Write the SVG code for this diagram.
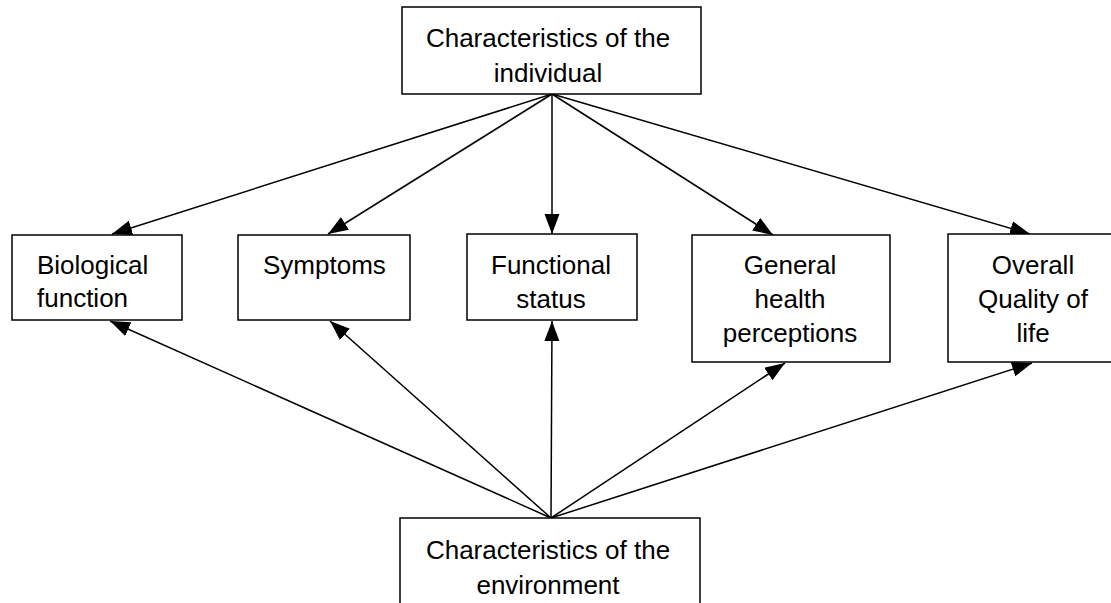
<svg xmlns="http://www.w3.org/2000/svg" width="1111" height="603" viewBox="0 0 1111 603">
<style>
.box{fill:#fff;stroke:#000;stroke-width:1.5}
.t{font-family:"Liberation Sans",Arial,sans-serif;font-size:26px;fill:#000}
.c{text-anchor:middle}
.ln{stroke:#000;stroke-width:1.5;fill:none;marker-end:url(#ah)}
</style>
<defs>
<marker id="ah" markerUnits="userSpaceOnUse" markerWidth="22" markerHeight="16" refX="20" refY="7.5" orient="auto">
<path d="M0,0 L20,7.5 L0,15 Z" fill="#000"/>
</marker>
</defs>
<rect width="1111" height="603" fill="#fff"/>
<g id="connectors">
<line class="ln" x1="552" y1="94" x2="112" y2="234"/>
<line class="ln" x1="552" y1="94" x2="328" y2="234"/>
<line class="ln" x1="552" y1="94" x2="552" y2="234"/>
<line class="ln" x1="552" y1="94" x2="773" y2="235"/>
<line class="ln" x1="552" y1="94" x2="1030" y2="234"/>
<line class="ln" x1="551" y1="518" x2="110" y2="321"/>
<line class="ln" x1="551" y1="518" x2="330" y2="321"/>
<line class="ln" x1="551" y1="518" x2="552" y2="321"/>
<line class="ln" x1="551" y1="518" x2="785" y2="363"/>
<line class="ln" x1="551" y1="518" x2="1032" y2="363"/>
</g>
<g id="individual">
<rect class="box" x="402" y="7" width="299" height="87"/>
<text class="t c" x="548" y="47">Characteristics of the</text>
<text class="t c" x="548" y="82">individual</text>
</g>
<g id="biological">
<rect class="box" x="12" y="235" width="170" height="85"/>
<text class="t" x="37" y="274">Biological</text>
<text class="t" x="37" y="307">function</text>
</g>
<g id="symptoms">
<rect class="box" x="238" y="235" width="172" height="85"/>
<text class="t" x="263" y="274">Symptoms</text>
</g>
<g id="functional">
<rect class="box" x="467" y="234" width="170" height="86"/>
<text class="t c" x="551" y="274">Functional</text>
<text class="t c" x="551" y="308">status</text>
</g>
<g id="general">
<rect class="box" x="692" y="235" width="198" height="127"/>
<text class="t c" x="790" y="274">General</text>
<text class="t c" x="790" y="308">health</text>
<text class="t c" x="790" y="342">perceptions</text>
</g>
<g id="overall">
<rect class="box" x="948" y="234" width="170" height="128"/>
<text class="t c" x="1033" y="274">Overall</text>
<text class="t c" x="1033" y="308">Quality of</text>
<text class="t c" x="1033" y="342">life</text>
</g>
<g id="environment">
<rect class="box" x="400" y="518" width="300" height="100"/>
<text class="t c" x="548" y="559">Characteristics of the</text>
<text class="t c" x="548" y="594">environment</text>
</g>
</svg>
